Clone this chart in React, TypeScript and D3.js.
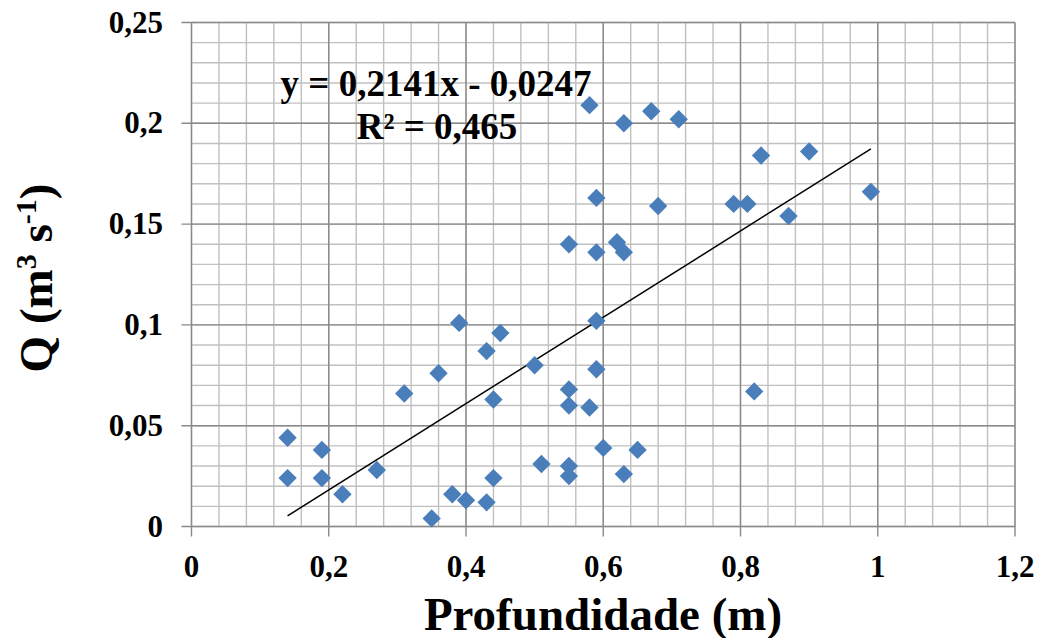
import React, { useEffect, useRef } from "react";
import * as d3 from "d3";

const depth = [
  0.14, 0.14, 0.19, 0.19, 0.22, 0.27, 0.31, 0.36, 0.39, 0.35, 0.38, 0.4,
  0.43, 0.44, 0.45, 0.43, 0.44, 0.5, 0.51, 0.55, 0.55, 0.55, 0.55, 0.55,
  0.58, 0.58, 0.59, 0.59, 0.59, 0.59, 0.6, 0.62, 0.63, 0.63, 0.63, 0.65,
  0.67, 0.68, 0.71, 0.79, 0.81, 0.82, 0.83, 0.87, 0.9, 0.99,
];
const discharge = [
  0.044, 0.024, 0.038, 0.024, 0.016, 0.028, 0.066, 0.076, 0.101, 0.004, 0.016, 0.013,
  0.087, 0.063, 0.096, 0.012, 0.024, 0.080, 0.031, 0.140, 0.068, 0.060, 0.030, 0.025,
  0.059, 0.209, 0.163, 0.136, 0.102, 0.078, 0.039, 0.141, 0.136, 0.200, 0.026, 0.038,
  0.206, 0.159, 0.202, 0.160, 0.160, 0.067, 0.184, 0.154, 0.186, 0.166,
];
const xTicks = [0, 0.2, 0.4, 0.6, 0.8, 1, 1.2];
const xTickLabels = ["0", "0,2", "0,4", "0,6", "0,8", "1", "1,2"];
const yTicks = [0, 0.05, 0.1, 0.15, 0.2, 0.25];
const yTickLabels = ["0", "0,05", "0,1", "0,15", "0,2", "0,25"];
const slope = 0.2141;
const intercept = -0.0247;
const trendRange = [0.14, 0.99];
const equationText = "y = 0,2141x - 0,0247";
const r2Value = "0,465";

export default function App() {
  const ref = useRef<SVGSVGElement>(null);

  useEffect(() => {
    const svg = d3.select(ref.current);
    svg.selectAll("*").remove();
    const left = 191.5, right = 1015, top = 22.5, bottom = 526.5;
    const x = d3.scaleLinear().domain([0, 1.2]).range([left, right]);
    const y = d3.scaleLinear().domain([0, 0.25]).range([bottom, top]);
    const font = "'Liberation Serif', 'Times New Roman', serif";

    // minor grid
    const xMinor = d3.range(0, 1.2001, 0.04);
    const yMinor = d3.range(0, 0.25001, 0.01);
    const g = svg.append("g");
    g.selectAll("line.xm").data(xMinor).enter().append("line")
      .attr("x1", (d) => x(d)).attr("x2", (d) => x(d))
      .attr("y1", top).attr("y2", bottom)
      .attr("stroke", "#c0c0c0").attr("stroke-width", 1.4);
    g.selectAll("line.ym").data(yMinor).enter().append("line")
      .attr("y1", (d) => y(d)).attr("y2", (d) => y(d))
      .attr("x1", left).attr("x2", right)
      .attr("stroke", "#c0c0c0").attr("stroke-width", 1.4);
    // major grid
    g.selectAll("line.xM").data(xTicks).enter().append("line")
      .attr("x1", (d) => x(d)).attr("x2", (d) => x(d))
      .attr("y1", top).attr("y2", bottom + 10)
      .attr("stroke", "#8a8a8a").attr("stroke-width", 1.4);
    g.selectAll("line.yM").data(yTicks).enter().append("line")
      .attr("y1", (d) => y(d)).attr("y2", (d) => y(d))
      .attr("x1", left - 10).attr("x2", right)
      .attr("stroke", "#8a8a8a").attr("stroke-width", 1.4);

    // tick labels
    svg.selectAll("text.xl").data(xTicks).enter().append("text")
      .attr("x", (d) => x(d)).attr("y", 577)
      .attr("text-anchor", "middle")
      .attr("font-family", font).attr("font-weight", "bold").attr("font-size", 31)
      .text((d, i) => xTickLabels[i]);
    svg.selectAll("text.yl").data(yTicks).enter().append("text")
      .attr("x", 163).attr("y", (d) => y(d) + 10)
      .attr("text-anchor", "end")
      .attr("font-family", font).attr("font-weight", "bold").attr("font-size", 31)
      .text((d, i) => yTickLabels[i]);

    // trend line
    const line = d3.line<number>().x((d) => x(d)).y((d) => y(slope * d + intercept));
    svg.append("path").datum(trendRange).attr("d", line)
      .attr("fill", "none").attr("stroke", "#000").attr("stroke-width", 1.5);

    // points
    const sym = d3.symbol().type(d3.symbolDiamond2).size(215);
    svg.selectAll("path.pt").data(depth).enter().append("path")
      .attr("d", sym as any)
      .attr("transform", (d, i) => `translate(${x(d)},${y(discharge[i])})`)
      .attr("fill", "#4a7ebb");

    // equation
    svg.append("text").attr("x", 436).attr("y", 96)
      .attr("text-anchor", "middle")
      .attr("font-family", font).attr("font-weight", "bold").attr("font-size", 37)
      .text(equationText);
    svg.append("text").attr("x", 437).attr("y", 139)
      .attr("text-anchor", "middle")
      .attr("font-family", font).attr("font-weight", "bold").attr("font-size", 37)
      .text("R² = " + r2Value);

    // axis titles
    svg.append("text").attr("x", 603).attr("y", 630)
      .attr("text-anchor", "middle")
      .attr("font-family", font).attr("font-weight", "bold").attr("font-size", 47)
      .text("Profundidade (m)");
    const yt = svg.append("text")
      .attr("transform", "translate(52,278) rotate(-90)")
      .attr("text-anchor", "middle")
      .attr("font-family", font).attr("font-weight", "bold").attr("font-size", 47);
    yt.append("tspan").text("Q (m");
    yt.append("tspan").attr("font-size", 30).attr("dy", -16).text("3");
    yt.append("tspan").attr("dy", 16).text(" s");
    yt.append("tspan").attr("font-size", 30).attr("dy", -16).text("-1");
    yt.append("tspan").attr("dy", 16).text(")");
  }, []);

  return (
    <svg
      ref={ref}
      width={1038}
      height={638}
      style={{ position: "absolute", left: 0, top: 0, background: "#fff" }}
    />
  );
}
